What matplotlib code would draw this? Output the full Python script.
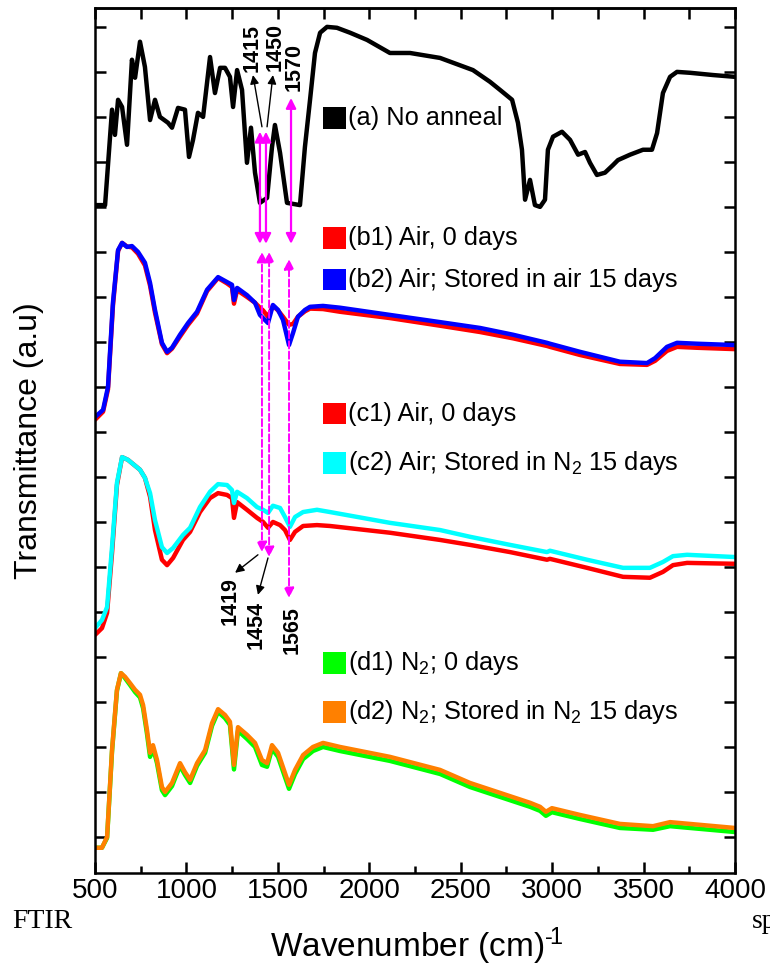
import matplotlib.pyplot as plt
from matplotlib.patches import Rectangle
from matplotlib.ticker import MultipleLocator

plt.rcParams['font.family'] = ['Liberation Sans', 'DejaVu Sans']
plt.rcParams['mathtext.fontset'] = 'custom'
plt.rcParams['mathtext.rm'] = 'Liberation Sans'
plt.rcParams['mathtext.it'] = 'Liberation Sans:italic'

# (a) no anneal
wn_a = [500, 538, 555, 593, 609, 626, 648, 675, 702, 719, 746, 773, 801, 828, 855, 899, 921, 954, 992, 1014,
        1036, 1063, 1091, 1129, 1156, 1184, 1211, 1238, 1255, 1277, 1304, 1331, 1353, 1375, 1402, 1441, 1468, 1484, 1512, 1550,
        1621, 1648, 1676, 1703, 1731, 1769, 1823, 1895, 1988, 2113, 2223, 2387, 2567, 2660, 2715, 2781, 2813, 2835, 2852, 2879,
        2906, 2934, 2961, 2977, 3005, 3054, 3098, 3142, 3180, 3207, 3245, 3289, 3333, 3360, 3426, 3497, 3546, 3574, 3606, 3645,
        3683, 3754, 3880, 4000]
t_a = [14.04, 14.04, 14.04, 16.16, 15.6, 16.38, 16.22, 15.38, 17.27, 16.87, 17.67, 17.11, 15.93, 16.38, 16.0, 15.87, 15.76, 16.2, 16.16, 15.11,
       15.49, 16.09, 16.0, 17.33, 16.53, 17.09, 17.09, 16.89, 16.22, 17.04, 16.6, 14.98, 15.76, 14.76, 14.09, 14.2, 15.33, 15.82, 15.2, 14.09,
       14.04, 15.33, 16.38, 17.42, 17.87, 18.0, 17.98, 17.87, 17.71, 17.42, 17.42, 17.31, 17.04, 16.78, 16.6, 16.38, 15.87, 15.27, 14.16, 14.6,
       14.04, 14.0, 14.16, 15.27, 15.56, 15.67, 15.49, 15.16, 15.22, 14.98, 14.71, 14.76, 14.93, 15.04, 15.16, 15.27, 15.27, 15.64, 16.53, 16.89,
       17.0, 16.98, 16.93, 16.89]

# (b) air annealed
wn_b = [500, 544, 571, 598, 626, 648, 675, 702, 735, 773, 801, 828, 866, 894, 921, 965, 1009, 1058, 1113, 1173,
        1222, 1249, 1260, 1277, 1331, 1375, 1402, 1419, 1446, 1473, 1501, 1528, 1561, 1583, 1610, 1648, 1676, 1747, 1840, 2113,
        2387, 2606, 2786, 2972, 2988, 3152, 3371, 3519, 3563, 3628, 3683, 3792, 4000]
t_b1 = [9.27, 9.45, 9.95, 11.8, 13.02, 13.2, 13.12, 13.1, 12.96, 12.7, 12.25, 11.65, 10.95, 10.75, 10.85, 11.12, 11.38, 11.63, 12.13, 12.42,
        12.3, 12.22, 11.85, 12.15, 12.0, 11.87, 11.76, 11.7, 11.56, 11.8, 11.7, 11.56, 11.38, 11.4, 11.56, 11.68, 11.74, 11.73, 11.67, 11.53,
        11.36, 11.22, 11.08, 10.91, 10.89, 10.71, 10.51, 10.49, 10.58, 10.8, 10.89, 10.87, 10.84]
t_b2 = [9.33, 9.49, 10.0, 11.87, 13.04, 13.2, 13.11, 13.13, 13.0, 12.76, 12.31, 11.71, 10.98, 10.78, 10.87, 11.16, 11.42, 11.67, 12.16, 12.44,
        12.33, 12.27, 11.93, 12.2, 12.04, 11.87, 11.6, 11.53, 11.42, 11.82, 11.71, 11.49, 10.93, 11.2, 11.56, 11.71, 11.78, 11.8, 11.76, 11.6,
        11.44, 11.31, 11.16, 10.98, 10.96, 10.78, 10.56, 10.53, 10.64, 10.89, 10.98, 10.96, 10.93]

# (c) air annealed, stored in N2
wn_c = [500, 538, 566, 593, 620, 648, 680, 746, 773, 801, 828, 866, 894, 927, 981, 1020, 1074, 1129, 1173, 1222,
        1249, 1260, 1277, 1331, 1386, 1419, 1446, 1473, 1512, 1539, 1566, 1594, 1638, 1714, 1785, 2113, 2387, 2551, 2770, 2972,
        2988, 3191, 3388, 3535, 3606, 3661, 3738, 4000]
t_c1 = [4.49, 4.64, 4.98, 6.31, 7.82, 8.44, 8.38, 8.16, 7.98, 7.56, 6.82, 6.16, 6.04, 6.2, 6.6, 6.78, 7.22, 7.53, 7.64, 7.6,
        7.53, 7.09, 7.44, 7.27, 7.09, 7.0, 6.87, 7.0, 6.93, 6.82, 6.6, 6.78, 6.91, 6.93, 6.91, 6.76, 6.6, 6.49, 6.33, 6.16,
        6.18, 5.98, 5.78, 5.76, 5.89, 6.04, 6.09, 6.07]
t_c2 = [4.64, 4.82, 5.11, 6.44, 7.87, 8.44, 8.38, 8.16, 7.98, 7.64, 7.04, 6.44, 6.31, 6.42, 6.71, 6.87, 7.33, 7.67, 7.84, 7.82,
        7.71, 7.42, 7.67, 7.53, 7.33, 7.27, 7.2, 7.36, 7.31, 7.11, 6.89, 7.11, 7.22, 7.27, 7.22, 6.98, 6.82, 6.67, 6.49, 6.33,
        6.36, 6.16, 5.98, 5.98, 6.11, 6.24, 6.27, 6.22]

# (d) N2 annealed
wn_d = [500, 538, 566, 593, 620, 642, 664, 691, 719, 746, 763, 784, 801, 817, 839, 866, 883, 921, 965, 992,
        1020, 1058, 1102, 1140, 1173, 1211, 1238, 1260, 1282, 1331, 1375, 1413, 1441, 1468, 1501, 1539, 1561, 1594, 1638, 1692,
        1747, 1840, 2113, 2387, 2551, 2879, 2934, 2966, 2999, 3152, 3371, 3552, 3645, 3699, 4000]
t_d1 = [-0.24, -0.24, -0.02, 1.9, 3.25, 3.64, 3.53, 3.38, 3.22, 3.1, 2.86, 2.3, 1.78, 1.98, 1.64, 1.04, 0.93, 1.13, 1.58, 1.38,
        1.2, 1.58, 1.87, 2.47, 2.78, 2.64, 2.49, 1.5, 2.36, 2.18, 2.0, 1.6, 1.56, 1.96, 1.78, 1.33, 1.07, 1.4, 1.73, 1.91,
        2.0, 1.91, 1.69, 1.4, 1.11, 0.67, 0.58, 0.47, 0.55, 0.4, 0.2, 0.16, 0.24, 0.22, 0.11]
t_d2 = [-0.24, -0.24, 0.0, 1.93, 3.27, 3.64, 3.56, 3.42, 3.27, 3.16, 2.93, 2.38, 1.87, 2.04, 1.71, 1.11, 1.0, 1.2, 1.64, 1.44,
        1.27, 1.64, 1.93, 2.53, 2.84, 2.71, 2.56, 1.6, 2.44, 2.27, 2.09, 1.71, 1.64, 2.04, 1.87, 1.42, 1.16, 1.49, 1.82, 2.0,
        2.09, 2.0, 1.78, 1.49, 1.2, 0.76, 0.67, 0.56, 0.64, 0.49, 0.29, 0.24, 0.33, 0.31, 0.2]

labels = ['(a) No anneal', '(b1) Air, 0 days', '(b2) Air; Stored in air 15 days',
          '(c1) Air, 0 days', '(c2) Air; Stored in N$_2$ 15 days',
          '(d1) N$_2$; 0 days', '(d2) N$_2$; Stored in N$_2$ 15 days']
colors = ['#000000', '#ff0000', '#0000ff', '#ff0000', '#00ffff', '#00ff00', '#ff8000']

fig = plt.figure(figsize=(7.7, 9.73), dpi=100)
ax = fig.add_axes([0.1234, 0.1028, 0.8311, 0.889])

series = [(wn_a, t_a), (wn_b, t_b1), (wn_b, t_b2), (wn_c, t_c1), (wn_c, t_c2), (wn_d, t_d1), (wn_d, t_d2)]
for (x, y), c in zip(series, colors):
    ax.plot(x, y, color=c, lw=3.2, solid_joinstyle='round', solid_capstyle='round')

# legend boxes drawn by hand
leg_y = [0.873, 0.734, 0.686, 0.531, 0.474, 0.243, 0.186]
for yy, lab, c in zip(leg_y, labels, colors):
    ax.add_patch(Rectangle((0.356, yy - 0.0125), 0.036, 0.025, transform=ax.transAxes,
                           facecolor=c, edgecolor='none'))
    ax.text(0.396, yy, lab, transform=ax.transAxes, fontsize=18.3, va='center', ha='left')

mag = '#ff00ff'
# solid double arrows from (a) down to (b)
for x0, ytop in [(1402, 15.67), (1435, 15.67), (1572, 16.42)]:
    ax.annotate('', xy=(x0, ytop), xytext=(x0, 13.18),
                arrowprops=dict(arrowstyle='<|-|>', color=mag, lw=1.6, mutation_scale=15, shrinkA=0, shrinkB=0))
# dashed double arrows from (b) down to (c)
for x0, ytop, ybot in [(1413, 13.0, 6.33), (1452, 13.0, 6.22), (1561, 12.84, 5.31)]:
    ax.annotate('', xy=(x0, ytop), xytext=(x0, ybot),
                arrowprops=dict(arrowstyle='<|-|>', color=mag, lw=1.4, ls='--', mutation_scale=15, shrinkA=0, shrinkB=0))

# peak labels
black_arr = dict(arrowstyle='-|>', color='black', lw=1, mutation_scale=13, shrinkA=0, shrinkB=0)
ax.annotate('', xy=(1364, 16.93), xytext=(1413, 15.78), arrowprops=black_arr)
ax.annotate('', xy=(1473, 16.93), xytext=(1441, 15.78), arrowprops=black_arr)
ax.annotate('', xy=(1266, 5.87), xytext=(1391, 6.27), arrowprops=black_arr)
ax.annotate('', xy=(1391, 5.38), xytext=(1446, 6.2), arrowprops=black_arr)
for txt, x0, y0 in [('1415', 1359, 17.53), ('1450', 1484, 17.56), ('1570', 1588, 17.11),
                    ('1419', 1238, 5.24), ('1454', 1380, 4.71), ('1565', 1577, 4.6)]:
    ax.text(x0, y0, txt, rotation=90, fontsize=15.5, fontweight='bold', ha='center', va='center')

ax.set_xlim(500, 4000)
ax.set_ylim(-0.8, 18.42)
ax.xaxis.set_major_locator(MultipleLocator(500))
ax.xaxis.set_minor_locator(MultipleLocator(250))
ax.yaxis.set_major_locator(MultipleLocator(1))
ax.set_yticklabels([])
ax.tick_params(which='major', direction='in', length=8, width=1.8, right=True, top=False, labelsize=20)
ax.tick_params(which='minor', direction='in', length=5, width=1.8, top=False)
ax.tick_params(axis='y', which='minor', left=False, right=False)
for s in ax.spines.values():
    s.set_linewidth(1.8)

top = ax.secondary_xaxis('top')
top.xaxis.set_major_locator(MultipleLocator(250))
top.tick_params(direction='in', length=8, width=1.8, labeltop=False)
top.spines['top'].set_linewidth(1.8)

ax.set_xlabel('Wavenumber (cm)$^{\u2010\\!1}$', fontsize=24)
ax.xaxis.set_label_coords(0.503, -0.061)
ax.set_ylabel('Transmittance (a.u)', fontsize=23)
ax.yaxis.set_label_coords(-0.079, 0.5)

# text from the surrounding page
fig.text(0.016, 0.053, 'FTIR', fontsize=20, family='Liberation Serif', va='center')
fig.text(0.977, 0.053, 'spectra', fontsize=20, family='Liberation Serif', va='center')

fig.savefig('out.png', dpi=100)
